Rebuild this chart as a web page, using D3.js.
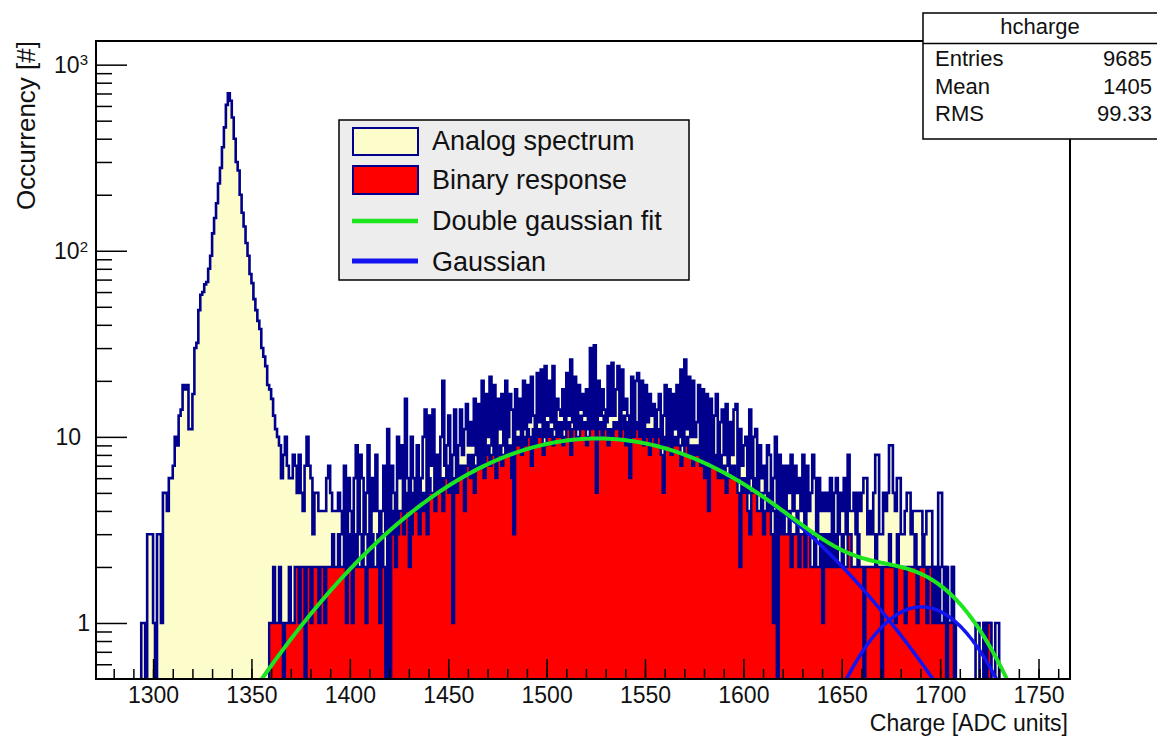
<!DOCTYPE html>
<html>
<head>
<meta charset="utf-8">
<script src="https://cdn.jsdelivr.net/npm/d3@7"></script>
<style>
  body { margin: 0; background: #fff; }
  svg { display: block; }
  text { font-family: "Liberation Sans", Arial, sans-serif; fill: #111; }
</style>
</head>
<body>
<svg id="chart" width="1157" height="736"></svg>
<script>
// histogram contents, 1 ADC unit per bin
const analogStart = 1293;
const analogCounts = [
  0,1,1,0,3,3,3,1,0,3,
  3,1,5,5,4,6,6,7,10,9,
  13,14,19,18,19,11,11,17,30,32,
  48,58,60,66,68,80,94,124,150,180,
  230,279,360,460,608,701,640,520,400,300,
  270,200,160,135,110,94,75,67,55,48,
  42,38,30,27,24,19,18,16,13,11,
  10,9,6,8,10,7,6,6,8,7,
  5,8,5,4,7,10,7,6,3,5,
  5,4,4,4,4,6,7,5,4,4,
  4,5,4,
  3,7,2,6,4,2,6,9,3,8,
  6,3,5,9,3,6,4,8,4,2,
  4,7,3,11,2,7,5,3,10,6,
  9,4,16,6,3,10,6,5,9,4,
  6,10,14,4,13,7,14,5,8,6,
  10,20,7,9,13,6,8,14,6,9,
  14,8,11,15,9,12,9,16,8,15,
  8,20,7,17,10,21,9,19,8,16,
  11,17,9,20,10,17,14,4,18,11,
  16,9,20,11,19,12,21,13,10,22,
  12,23,10,24,13,20,12,24,11,16,
  14,13,18,11,22,13,26,12,21,11,
  19,14,17,13,18,11,30,12,31,6,
  20,13,18,14,12,24,13,25,13,18,
  24,11,23,14,16,13,7,21,11,20,
  22,11,20,10,19,12,17,13,15,10,
  14,17,9,13,19,10,18,9,17,11,
  19,10,23,9,26,11,21,10,20,10,
  12,19,8,18,7,17,5,16,8,13,
  17,7,12,14,8,15,7,12,8,14,
  15,6,11,7,9,10,5,14,6,10,
  11,5,9,6,7,5,9,8,4,6,
  10,1,8,4,7,4,7,5,8,4,
  7,5,6,4,8,3,7,4,5,8,
  6,3,6,4,5,4,5,4,6,3,
  5,6,3,5,4,6,3,8,4,4,
  5,3,5,4,5,6,6,3,4,3,
  5,8,8,3,3,5,4,5,9,9,
  5,4,6,6,3,3,4,5,5,3,
  4,4,4,4,4,3,3,4,4,4,
  2,2,1,5,5,2,1,2,1,1,
  2,1,0,0,0,0,0,0,0,0,
  0,0,1,1,0,0,1,1,1,1,
  0,0,1,1,0,0,0,0,0,0
];

const binaryStart = 1358;
const binaryCounts = [
  0,1,1,2,1,1,2,1,0,1,
  1,2,1,1,2,2,1,2,2,0,
  2,2,1,2,2,2,1,2,2,1,
  2,2,2,3,2,2,3,2,
  2,3,1,2,3,1,2,3,2,2,
  3,2,1,3,2,3,2,2,3,1,
  3,2,0,3,0,3,4,2,3,4,
  4,3,4,5,2,3,5,4,5,3,
  5,4,5,3,6,5,5,4,6,5,
  6,4,6,7,5,6,1,6,5,7,
  6,7,4,7,8,6,8,5,7,8,
  7,8,6,8,9,7,8,9,6,8,
  9,7,8,10,8,9,6,3,9,10,
  9,8,10,9,11,10,7,11,9,10,
  11,10,8,9,12,10,11,9,10,12,
  10,12,9,10,11,12,8,11,12,10,
  10,13,11,12,9,10,12,11,13,5,
  11,12,10,13,11,9,11,10,12,11,
  12,10,11,13,9,12,6,11,10,12,
  11,10,12,9,10,11,8,11,10,9,
  11,10,8,5,10,9,10,8,10,9,
  10,9,7,8,9,10,8,9,7,9,
  8,9,7,8,6,8,4,8,7,8,
  7,6,8,6,7,5,6,7,6,7,
  6,5,2,6,5,6,4,3,5,6,
  5,4,4,5,3,4,5,4,3,1,
  4,0,4,3,4,3,3,4,2,3,
  3,4,2,3,3,2,3,3,2,2,
  3,2,2,3,1,3,2,3,2,3,
  2,3,2,2,3,2,2,3,3,2,
  2,2,3,2,2,0,2,2,2,2,
  2,3,2,2,0,2,2,2,3,2,
  2,1,3,2,2,2,1,2,2,2,
  2,3,1,2,2,3,2,1,2,2,
  1,2,1,2,1,1,2,0,1,1,
  2,0,0,0,0,0,0,0,0,0,
  0,0,0,0,0,0,1,0,1,1,
  0,0,0,0,0,0,0,0,0,0
];

// fit parameters [amplitude, mean, sigma]
const gaus1 = [9.8, 1525.8, 69.9];
const gaus2 = [1.22, 1690.5, 28.5];

const xMajorTicks = [1300, 1350, 1400, 1450, 1500, 1550, 1600, 1650, 1700, 1750];
const xMinorTicks = d3.range(1280, 1770, 10);
const yMajorTicks = [1, 10, 100, 1000];
const yTickLabels = [["1", ""], ["10", ""], ["10", "2"], ["10", "3"]];
const legendLabels = ["Analog spectrum", "Binary response", "Double gaussian fit", "Gaussian"];
const statsRows = [["Entries", "9685"], ["Mean", "1405"], ["RMS", "99.33"]];

const navy = "#00008c", yellow = "#fdfdcb", red = "#ff0000", green = "#1ee61e", blue = "#1414f0";

const svg = d3.select("#chart");
const pLeft = 96, pRight = 1070, pTop = 41, pBottom = 679;

const x = d3.scaleLinear().domain([1271, 1766]).range([pLeft, pRight]);
const y = d3.scaleLog().domain([0.5, 1340]).range([pBottom, pTop]);

svg.append("defs").append("clipPath").attr("id", "plotClip")
  .append("rect").attr("x", pLeft).attr("y", pTop)
  .attr("width", pRight - pLeft).attr("height", pBottom - pTop);

const plot = svg.append("g").attr("clip-path", "url(#plotClip)");

// step outline + fill for a histogram
function histPoints(start, counts) {
  const pts = [[start, 0]];
  counts.forEach((c, i) => pts.push([start + i, c]));
  pts.push([start + counts.length, 0]);
  return pts;
}
const yv = c => c > 0 ? y(c) : pBottom + 3;
const stepLine = d3.line().x(d => x(d[0])).y(d => yv(d[1])).curve(d3.curveStepAfter);
const stepArea = d3.area().x(d => x(d[0])).y0(pBottom + 3).y1(d => yv(d[1])).curve(d3.curveStepAfter);

const analogPts = histPoints(analogStart, analogCounts);
const binaryPts = histPoints(binaryStart, binaryCounts);

plot.append("path").attr("d", stepArea(analogPts)).attr("fill", yellow);
plot.append("path").attr("d", stepLine(analogPts))
  .attr("fill", "none").attr("stroke", navy).attr("stroke-width", 2.6);
plot.append("path").attr("d", stepArea(binaryPts)).attr("fill", red);
plot.append("path").attr("d", stepLine(binaryPts))
  .attr("fill", "none").attr("stroke", navy).attr("stroke-width", 2.4);

// fit functions
const gaus = (p, v) => p[0] * Math.exp(-0.5 * Math.pow((v - p[1]) / p[2], 2));
const xs = d3.range(1340, 1745.01, 0.5);
const curve = d3.line().x(d => x(d[0])).y(d => y(d[1]));
function curvePts(fn) {
  return xs.map(v => [v, fn(v)]).filter(d => d[1] > 0.2);
}
plot.append("path").attr("d", curve(curvePts(v => gaus(gaus1, v))))
  .attr("fill", "none").attr("stroke", blue).attr("stroke-width", 3.5);
plot.append("path").attr("d", curve(curvePts(v => gaus(gaus2, v))))
  .attr("fill", "none").attr("stroke", blue).attr("stroke-width", 3.5);
plot.append("path").attr("d", curve(curvePts(v => gaus(gaus1, v) + gaus(gaus2, v))))
  .attr("fill", "none").attr("stroke", green).attr("stroke-width", 4);

// frame
svg.append("rect").attr("x", pLeft).attr("y", pTop)
  .attr("width", pRight - pLeft).attr("height", pBottom - pTop)
  .attr("fill", "none").attr("stroke", "#000").attr("stroke-width", 2);

// x axis
const xMinor = svg.append("g").attr("transform", `translate(0,${pBottom})`)
  .call(d3.axisBottom(x).tickValues(xMinorTicks).tickSize(-10).tickFormat(""));
const xMajor = svg.append("g").attr("transform", `translate(0,${pBottom})`)
  .call(d3.axisBottom(x).tickValues(xMajorTicks).tickSize(-20).tickPadding(8).tickFormat(d3.format("d")));
[xMinor, xMajor].forEach(g => {
  g.select(".domain").remove();
  g.selectAll("line").attr("stroke", "#000").attr("stroke-width", 1.5);
});
xMajor.selectAll("text").attr("font-size", 23).attr("fill", "#111")
  .attr("font-family", '"Liberation Sans", Arial, sans-serif');

// y axis
const yMinorVals = [];
[0.1, 1, 10, 100, 1000].forEach(dec => {
  for (let k = 2; k <= 9; k++) {
    const v = k * dec;
    if (v > 0.5 && v < 1340) yMinorVals.push(v);
  }
});
const yMinor = svg.append("g").attr("transform", `translate(${pLeft},0)`)
  .call(d3.axisLeft(y).tickValues(yMinorVals).tickSize(-16).tickFormat(""));
const yMajor = svg.append("g").attr("transform", `translate(${pLeft},0)`)
  .call(d3.axisLeft(y).tickValues(yMajorTicks).tickSize(-31).tickFormat(""));
[yMinor, yMajor].forEach(g => {
  g.select(".domain").remove();
  g.selectAll("line").attr("stroke", "#000").attr("stroke-width", 1.5);
});

// label right edges as placed in the original figure
const yLabelRight = [90, 81, 88, 88];
const yLab = svg.append("g").selectAll("text")
  .data(yMajorTicks)
  .enter()
  .append("text")
  .attr("x", (d, i) => yLabelRight[i])
  .attr("y", d => y(d))
  .attr("dy", "0.36em")
  .attr("text-anchor", "end")
  .attr("font-size", 23);
yLab.append("tspan").text((d, i) => yTickLabels[i][0]);
yLab.append("tspan")
  .attr("dy", (d, i) => yTickLabels[i][1] ? "-0.5em" : null)
  .attr("font-size", 15)
  .text((d, i) => yTickLabels[i][1]);

// axis titles
svg.append("text")
  .attr("x", 1068).attr("y", 731)
  .attr("text-anchor", "end")
  .attr("font-size", 23)
  .text("Charge [ADC units]");

svg.append("text")
  .attr("transform", `translate(35,${pTop}) rotate(-90)`)
  .attr("text-anchor", "end")
  .attr("font-size", 26)
  .text("Occurrency [#]");

// legend
const legend = svg.append("g");
legend.append("rect")
  .attr("x", 339).attr("y", 120).attr("width", 350).attr("height", 160)
  .attr("fill", "#ededed").attr("stroke", "#000").attr("stroke-width", 1.5);
const legendY = [141, 180, 221, 262];
legend.append("rect").attr("x", 353).attr("y", 128).attr("width", 65).attr("height", 27)
  .attr("fill", yellow).attr("stroke", navy).attr("stroke-width", 2);
legend.append("rect").attr("x", 353).attr("y", 166).attr("width", 65).attr("height", 28)
  .attr("fill", red).attr("stroke", navy).attr("stroke-width", 2);
legend.append("line").attr("x1", 352).attr("x2", 418).attr("y1", 221).attr("y2", 221)
  .attr("stroke", green).attr("stroke-width", 4.5);
legend.append("line").attr("x1", 352).attr("x2", 418).attr("y1", 261).attr("y2", 261)
  .attr("stroke", blue).attr("stroke-width", 5);
legend.selectAll("text.lbl")
  .data(legendLabels)
  .enter()
  .append("text")
  .attr("class", "lbl")
  .attr("x", 432)
  .attr("y", (d, i) => legendY[i])
  .attr("dy", "0.35em")
  .attr("font-size", 27)
  .text(d => d);

// stats box
const stats = svg.append("g");
stats.append("rect")
  .attr("x", 923).attr("y", 13).attr("width", 250).attr("height", 126)
  .attr("fill", "#fff").attr("stroke", "#000").attr("stroke-width", 1.5);
stats.append("line").attr("x1", 923).attr("x2", 1157).attr("y1", 43.5).attr("y2", 43.5)
  .attr("stroke", "#000").attr("stroke-width", 1.5);
stats.append("text").attr("x", 1040).attr("y", 34)
  .attr("text-anchor", "middle").attr("font-size", 22).text("hcharge");
statsRows.forEach((row, i) => {
  const by = 66 + i * 27.5;
  stats.append("text").attr("x", 935).attr("y", by).attr("font-size", 22).text(row[0]);
  stats.append("text").attr("x", 1152).attr("y", by).attr("text-anchor", "end")
    .attr("font-size", 22).text(row[1]);
});
</script>
</body>
</html>
